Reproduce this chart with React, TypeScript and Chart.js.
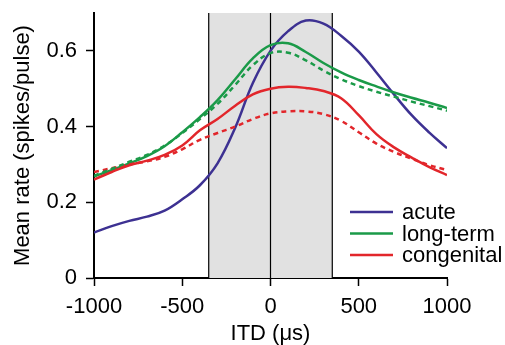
import React, { useEffect, useRef } from "react";
import { Chart, registerables } from "chart.js";
Chart.register(...registerables);

const itd = [-1000, -900, -800, -700, -600, -500, -400, -300, -200, -100, 0, 100, 200, 300, 400, 500, 600, 700, 800, 900, 1000];
const acute = [0.12, 0.137, 0.151, 0.162, 0.178, 0.208, 0.245, 0.303, 0.397, 0.515, 0.6, 0.652, 0.68, 0.672, 0.64, 0.598, 0.543, 0.485, 0.43, 0.384, 0.343];
const longTerm = [0.268, 0.285, 0.303, 0.322, 0.348, 0.385, 0.425, 0.47, 0.525, 0.58, 0.615, 0.62, 0.597, 0.568, 0.543, 0.523, 0.506, 0.49, 0.476, 0.463, 0.449];
const longTermDashed = [0.27, 0.288, 0.307, 0.325, 0.35, 0.383, 0.42, 0.46, 0.51, 0.562, 0.594, 0.595, 0.575, 0.548, 0.525, 0.507, 0.492, 0.479, 0.466, 0.454, 0.442];
const congenital = [0.26, 0.28, 0.298, 0.31, 0.325, 0.35, 0.39, 0.42, 0.455, 0.485, 0.5, 0.505, 0.502, 0.494, 0.475, 0.43, 0.38, 0.345, 0.318, 0.293, 0.272];
const congenitalDashed = [0.28, 0.29, 0.3, 0.308, 0.32, 0.34, 0.365, 0.383, 0.4, 0.42, 0.435, 0.44, 0.44, 0.433, 0.415, 0.385, 0.355, 0.333, 0.315, 0.298, 0.285];

const xTicks = [-1000, -500, 0, 500, 1000];
const yTicks = [0, 0.2, 0.4, 0.6];
const shadedRange = [-350, 350];
const centerLine = 0;
const legendLabels = ["acute", "long-term", "congenital"];
const colors = ["#3d3192", "#1a9a48", "#e2262b"];

const FONT = "'Liberation Sans', Arial, Helvetica, sans-serif";
const FS = 22;

const pts = (arr: number[]) => itd.map((x, i) => ({ x, y: arr[i] }));

const shadePlugin = {
  id: "shade",
  beforeDatasetsDraw(chart: any) {
    const { ctx, chartArea, scales } = chart;
    const x0 = scales.x.getPixelForValue(shadedRange[0]);
    const x1 = scales.x.getPixelForValue(shadedRange[1]);
    const xc = scales.x.getPixelForValue(centerLine);
    ctx.save();
    ctx.fillStyle = "#e1e1e1";
    ctx.fillRect(x0, chartArea.top, x1 - x0, chartArea.bottom - chartArea.top);
    ctx.strokeStyle = "#000";
    ctx.lineWidth = 1.2;
    [x0, xc, x1].forEach((x) => {
      ctx.beginPath();
      ctx.moveTo(x, chartArea.top);
      ctx.lineTo(x, chartArea.bottom);
      ctx.stroke();
    });
    ctx.restore();
  },
};

const legendPlugin = {
  id: "customLegend",
  afterDatasetsDraw(chart: any) {
    const { ctx, chartArea } = chart;
    const lx0 = chartArea.right - 97;
    const lx1 = chartArea.right - 54;
    const tx = chartArea.right - 45;
    const y0 = chartArea.bottom - 66;
    const dy = 21.5;
    ctx.save();
    ctx.font = `${FS}px ${FONT}`;
    ctx.textBaseline = "middle";
    ctx.textAlign = "left";
    legendLabels.forEach((label, i) => {
      const y = y0 + i * dy;
      ctx.strokeStyle = colors[i];
      ctx.lineWidth = 2.5;
      ctx.beginPath();
      ctx.moveTo(lx0, y);
      ctx.lineTo(lx1, y);
      ctx.stroke();
      ctx.fillStyle = "#000";
      ctx.fillText(label, tx, y + 1);
    });
    ctx.restore();
  },
};

export default function App() {
  const ref = useRef<HTMLCanvasElement>(null);
  useEffect(() => {
    if (!ref.current) return;
    const chart = new Chart(ref.current, {
      type: "line",
      data: {
        datasets: [
          { label: "long-term (dashed)", data: pts(longTermDashed), borderColor: colors[1], borderDash: [5, 4] },
          { label: "congenital (dashed)", data: pts(congenitalDashed), borderColor: colors[2], borderDash: [5, 4] },
          { label: legendLabels[2], data: pts(congenital), borderColor: colors[2] },
          { label: legendLabels[1], data: pts(longTerm), borderColor: colors[1] },
          { label: legendLabels[0], data: pts(acute), borderColor: colors[0] },
        ],
      },
      options: {
        responsive: false,
        animation: false,
        layout: { padding: { left: 0, right: 58, top: 13, bottom: 0 } },
        plugins: { legend: { display: false }, tooltip: { enabled: false } },
        elements: {
          point: { radius: 0 },
          line: { borderWidth: 2.5, tension: 0.4, fill: false },
        },
        scales: {
          x: {
            type: "linear",
            min: -1000,
            max: 1000,
            afterBuildTicks: (s: any) => {
              s.ticks = xTicks.map((v) => ({ value: v }));
            },
            afterFit: (s: any) => {
              s.height = 67;
              s.paddingLeft = 0;
              s.paddingRight = 0;
            },
            ticks: {
              color: "#000",
              font: { size: FS, family: FONT },
              padding: 8,
              maxRotation: 0,
              autoSkip: false,
              callback: (v: any) => String(v),
            },
            grid: { display: true, drawOnChartArea: false, drawTicks: true, tickLength: 8, tickWidth: 1.5, tickColor: "#000" },
            border: { display: true, color: "#000", width: 2 },
            title: {
              display: true,
              text: "ITD (μs)",
              color: "#000",
              font: { size: FS, family: FONT, lineHeight: 1 },
              padding: { top: 0, bottom: 0 },
            },
          },
          y: {
            type: "linear",
            min: 0,
            max: 0.7,
            afterBuildTicks: (s: any) => {
              s.ticks = yTicks.map((v) => ({ value: v }));
            },
            afterFit: (s: any) => {
              s.width = 94;
              s.paddingTop = 0;
              s.paddingBottom = 0;
            },
            ticks: {
              color: "#000",
              font: { size: FS, family: FONT },
              padding: 9,
              autoSkip: false,
              callback: (v: any) => String(v),
            },
            grid: { display: true, drawOnChartArea: false, drawTicks: true, tickLength: 8, tickWidth: 1.5, tickColor: "#000" },
            border: { display: true, color: "#000", width: 2 },
            title: {
              display: true,
              text: "Mean rate (spikes/pulse)",
              color: "#000",
              font: { size: FS, family: FONT, lineHeight: 1 },
              padding: { top: 12, bottom: 0 },
            },
          },
        },
      },
      plugins: [shadePlugin, legendPlugin],
    });
    return () => chart.destroy();
  }, []);
  return (
    <div style={{ position: "absolute", left: 0, top: 0, width: 505, height: 345 }}>
      <canvas ref={ref} width={505} height={345} style={{ width: 505, height: 345 }} />
    </div>
  );
}
